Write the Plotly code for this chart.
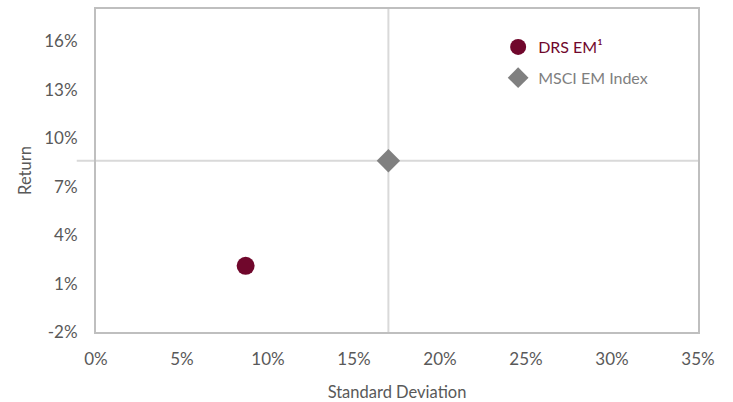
import plotly.graph_objects as go

# Data
series_names = ["DRS EM¹", "MSCI EM Index"]
std_dev = [8.7, 17.0]
returns = [2.1, 8.6]
x_ticks = [0, 5, 10, 15, 20, 25, 30, 35]
y_ticks = [-2, 1, 4, 7, 10, 13, 16]

maroon = "#70072c"
gray_marker = "#808080"
text_gray = "#595959"
font_family = "Lato, 'Open Sans', sans-serif"

fig = go.Figure()

fig.add_trace(go.Scatter(
    x=[std_dev[0]], y=[returns[0]], mode="markers", legendgroup="a",
    name=f"<span style='color:{maroon}'>{series_names[0]}</span>",
    marker=dict(symbol="circle", size=18, color=maroon),
))
fig.add_trace(go.Scatter(
    x=[std_dev[1]], y=[returns[1]], mode="markers", legendgroup="b",
    name=f"<span style='color:#7f7f7f'>{series_names[1]}</span>",
    marker=dict(symbol="diamond", size=18, color=gray_marker),
))

# crossing lines at index values
fig.add_shape(type="line", xref="x", yref="paper", x0=std_dev[1], x1=std_dev[1], y0=0, y1=1,
              line=dict(color="#d9d9d9", width=2), layer="below")
fig.add_shape(type="line", xref="paper", yref="y", x0=-0.032, x1=1, y0=returns[1], y1=returns[1],
              line=dict(color="#d9d9d9", width=2), layer="below")

fig.update_layout(
    width=733, height=402,
    margin=dict(l=96, r=35, t=9, b=70, autoexpand=False),
    paper_bgcolor="white", plot_bgcolor="white",
    font=dict(family=font_family, size=16, color=text_gray),
    showlegend=True,
    legend=dict(x=0.668, y=0.935, xanchor="left", yanchor="top",
                bgcolor="rgba(0,0,0,0)", font=dict(size=16),
                itemsizing="trace", tracegroupgap=7),
    xaxis=dict(range=[0, 35], tickvals=x_ticks, ticktext=[f"{v}%" for v in x_ticks],
               showgrid=False, zeroline=False, showline=True, linecolor="#bfbfbf",
               linewidth=2, mirror=True, ticks="", ticklen=0, automargin=False,
               ticklabelstandoff=11,
               title=dict(text="Standard Deviation", font=dict(size=16.5, color=text_gray), standoff=26),
               tickfont=dict(size=17, color=text_gray)),
    yaxis=dict(range=[-2, 18], tickvals=y_ticks, ticktext=[f"{v}%" for v in y_ticks],
               showgrid=False, zeroline=False, showline=True, linecolor="#bfbfbf",
               linewidth=2, mirror=True, ticks="", ticklen=0, automargin=False,
               ticklabelstandoff=13,
               title=dict(text="Return", font=dict(size=16.5, color=text_gray), standoff=8),
               tickfont=dict(size=17, color=text_gray)),
)

fig.write_html("out.html", config={"displayModeBar": False},
               post_script="document.body.style.margin='0';")
